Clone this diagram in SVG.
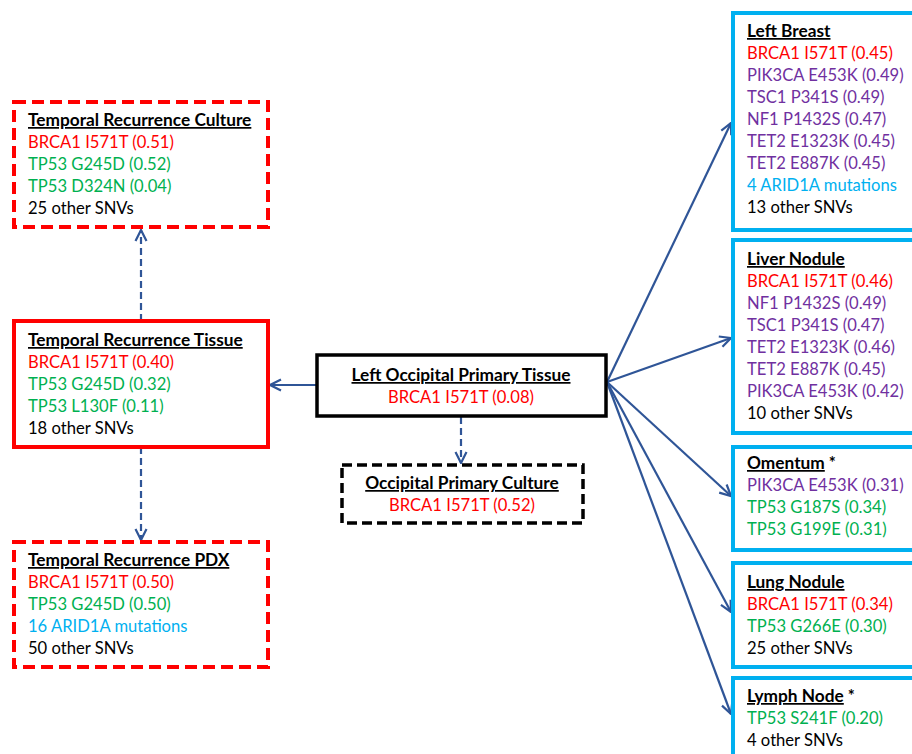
<svg xmlns="http://www.w3.org/2000/svg" width="912" height="754" viewBox="0 0 912 754">
<style>
text{font-family:Lato,"Open Sans","DejaVu Sans",sans-serif;font-size:16.6px}
.t{font-weight:bold;text-decoration:underline;fill:#000;font-size:17.3px}
.r{fill:#FF0000}.g{fill:#00B050}.p{fill:#7030A0}.b{fill:#00B0F0}.k{fill:#000}
.red{fill:#fff;stroke:#FF0000;stroke-width:4}
.redd{fill:#fff;stroke:#FF0000;stroke-width:4;stroke-dasharray:12 6}
.blk{fill:#fff;stroke:#000;stroke-width:3.5}
.blkd{fill:#fff;stroke:#000;stroke-width:3.5;stroke-dasharray:10 5}
.blu{fill:#fff;stroke:#00B0F0;stroke-width:4}
.c{fill:none;stroke:#2F5597;stroke-width:2.2;marker-end:url(#ah)}
.cd{fill:none;stroke:#2F5597;stroke-width:2.2;stroke-dasharray:7 4;marker-end:url(#ah)}
.m{text-anchor:middle}
</style>
<defs>
<marker id="ah" viewBox="0 0 14 14" refX="13" refY="7" markerWidth="14" markerHeight="14" markerUnits="userSpaceOnUse" orient="auto">
<path d="M2,1.5 L13,7 L2,12.5" fill="none" stroke="#2F5597" stroke-width="2.2"/>
</marker>
</defs>
<g id="connectors">
<path class="c" d="M317,385 L270,385"/>
<path class="cd" d="M141,321 L141,230"/>
<path class="cd" d="M141,447 L141,540"/>
<path class="cd" d="M461,417 L461,463"/>
<path class="c" d="M607,382 L731,123"/>
<path class="c" d="M607,382 L731,338"/>
<path class="c" d="M607,382 L731,496"/>
<path class="c" d="M607,382 L731,612"/>
<path class="c" d="M607,382 L731,714"/>
</g>
<g id="temporal-recurrence-culture">
<rect class="redd" x="14" y="102" width="254" height="125"/>
<text x="28" y="126" class="t">Temporal Recurrence Culture</text>
<text x="28" y="148" class="r">BRCA1 I571T (0.51)</text>
<text x="28" y="170" class="g">TP53 G245D (0.52)</text>
<text x="28" y="192" class="g">TP53 D324N (0.04)</text>
<text x="28" y="214" class="k">25 other SNVs</text>
</g>
<g id="temporal-recurrence-tissue">
<rect class="red" x="14" y="321" width="254" height="126"/>
<text x="28" y="346" class="t">Temporal Recurrence Tissue</text>
<text x="28" y="368" class="r">BRCA1 I571T (0.40)</text>
<text x="28" y="390" class="g">TP53 G245D (0.32)</text>
<text x="28" y="412" class="g">TP53 L130F (0.11)</text>
<text x="28" y="434" class="k">18 other SNVs</text>
</g>
<g id="temporal-recurrence-pdx">
<rect class="redd" x="14" y="542" width="254" height="125"/>
<text x="28" y="566" class="t">Temporal Recurrence PDX</text>
<text x="28" y="588" class="r">BRCA1 I571T (0.50)</text>
<text x="28" y="610" class="g">TP53 G245D (0.50)</text>
<text x="28" y="632" class="b">16 ARID1A mutations</text>
<text x="28" y="654" class="k">50 other SNVs</text>
</g>
<g id="left-occipital-primary-tissue">
<rect class="blk" x="317" y="355" width="289" height="61"/>
<text x="461" y="381" class="t m">Left Occipital Primary Tissue</text>
<text x="461" y="403" class="r m">BRCA1 I571T (0.08)</text>
</g>
<g id="occipital-primary-culture">
<rect class="blkd" x="342" y="465" width="241" height="58"/>
<text x="462" y="489" class="t m">Occipital Primary Culture</text>
<text x="462" y="511" class="r m">BRCA1 I571T (0.52)</text>
</g>
<g id="left-breast">
<rect class="blu" x="733" y="13" width="190" height="217"/>
<text x="747" y="37" class="t">Left Breast</text>
<text x="747" y="59" class="r">BRCA1 I571T (0.45)</text>
<text x="747" y="81" class="p">PIK3CA E453K (0.49)</text>
<text x="747" y="103" class="p">TSC1 P341S (0.49)</text>
<text x="747" y="125" class="p">NF1 P1432S (0.47)</text>
<text x="747" y="147" class="p">TET2 E1323K (0.45)</text>
<text x="747" y="169" class="p">TET2 E887K (0.45)</text>
<text x="747" y="191" class="b">4 ARID1A mutations</text>
<text x="747" y="213" class="k">13 other SNVs</text>
</g>
<g id="liver-nodule">
<rect class="blu" x="733" y="240" width="190" height="193"/>
<text x="747" y="265" class="t">Liver Nodule</text>
<text x="747" y="287" class="r">BRCA1 I571T (0.46)</text>
<text x="747" y="309" class="p">NF1 P1432S (0.49)</text>
<text x="747" y="331" class="p">TSC1 P341S (0.47)</text>
<text x="747" y="353" class="p">TET2 E1323K (0.46)</text>
<text x="747" y="375" class="p">TET2 E887K (0.45)</text>
<text x="747" y="397" class="p">PIK3CA E453K (0.42)</text>
<text x="747" y="419" class="k">10 other SNVs</text>
</g>
<g id="omentum">
<rect class="blu" x="733" y="447" width="190" height="103"/>
<text x="747" y="469" class="k" font-weight="bold" font-size="17.3px"><tspan class="t">Omentum</tspan> *</text>
<text x="747" y="491" class="p">PIK3CA E453K (0.31)</text>
<text x="747" y="513" class="g">TP53 G187S (0.34)</text>
<text x="747" y="535" class="g">TP53 G199E (0.31)</text>
</g>
<g id="lung-nodule">
<rect class="blu" x="733" y="563" width="190" height="104"/>
<text x="747" y="588" class="t">Lung Nodule</text>
<text x="747" y="610" class="r">BRCA1 I571T (0.34)</text>
<text x="747" y="632" class="g">TP53 G266E (0.30)</text>
<text x="747" y="654" class="k">25 other SNVs</text>
</g>
<g id="lymph-node">
<rect class="blu" x="733" y="678" width="190" height="100"/>
<text x="747" y="702" class="k" font-weight="bold" font-size="17.3px"><tspan class="t">Lymph Node</tspan> *</text>
<text x="747" y="724" class="g">TP53 S241F (0.20)</text>
<text x="747" y="746" class="k">4 other SNVs</text>
</g>
</svg>
